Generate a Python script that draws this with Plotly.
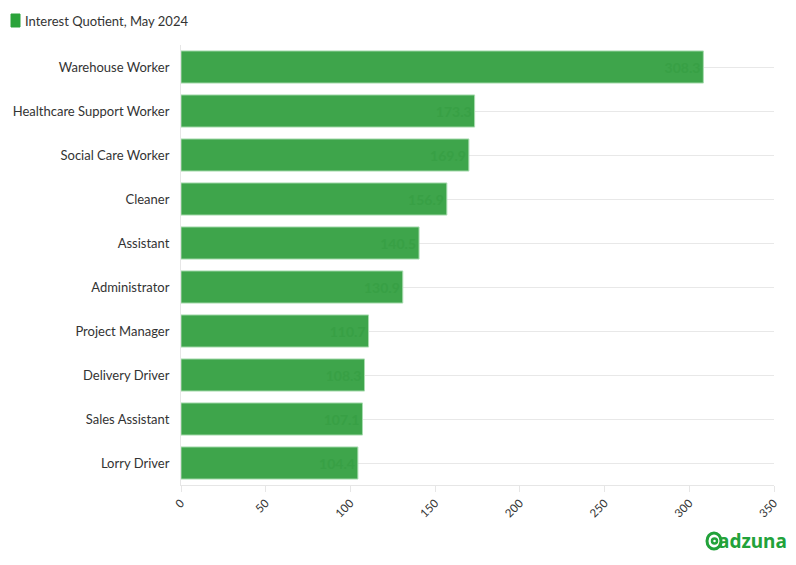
import plotly.graph_objects as go

categories = ["Warehouse Worker", "Healthcare Support Worker", "Social Care Worker", "Cleaner",
              "Assistant", "Administrator", "Project Manager", "Delivery Driver",
              "Sales Assistant", "Lorry Driver"]
values = [308.3, 173.3, 169.9, 156.9, 140.5, 130.9, 110.7, 108.3, 107.1, 104.4]
series_name = "Interest Quotient, May 2024"
x_ticks = [0, 50, 100, 150, 200, 250, 300, 350]

FONT = "Lato, 'Source Sans Pro', sans-serif"
GREEN = "#3ea54b"
LOGO = "#22a23a"

# page body offset of 8px; plot area on screen x 181..774, y 45..485
OFF = 8
W, H = 796, 565
L, R, T, B = 181 - OFF, 774 - OFF, 45 - OFF, 485 - OFF
def px(x): return (x - OFF - L) / (R - L)
def py(y): return (B - (y - OFF)) / (B - T)

fig = go.Figure()
fig.add_trace(go.Bar(
    y=categories, x=values, orientation="h", name=series_name,
    marker=dict(color=GREEN, line=dict(color="#a9dcb0", width=1)),
    text=[f"{v:.1f}" for v in values], textposition="inside", insidetextanchor="end",
    textangle=0, constraintext="none",
    insidetextfont=dict(color="#38a045", size=14, family=FONT, weight="bold"),
    cliponaxis=False, showlegend=False,
))

fig.update_layout(
    width=W, height=H,
    margin=dict(l=L, r=W - R, t=T, b=H - B, autoexpand=False),
    paper_bgcolor="white", plot_bgcolor="white",
    font=dict(family=FONT, color="#333333", size=13),
    bargap=0.27,
    showlegend=False,
    xaxis=dict(range=[0, 350], tickvals=x_ticks, tickangle=-45, showgrid=False,
               zeroline=False, showline=True, linecolor="#e6e6e6", linewidth=1,
               ticks="outside", ticklen=6, tickcolor="#e6e6e6", automargin=False,
               tickfont=dict(size=11.5, color="#333333")),
    yaxis=dict(autorange="reversed", showgrid=True, gridcolor="#e8e8e8",
               showline=True, linecolor="#e6e6e6", ticks="outside", ticklen=8,
               tickcolor="rgba(0,0,0,0)", automargin=False,
               tickfont=dict(size=13, color="#333333")),
)

# legend (drawn manually to match position)
fig.add_shape(type="rect", xref="paper", yref="paper",
              x0=px(11), x1=px(20), y0=py(27), y1=py(14),
              fillcolor="#2aa33a", line=dict(color="#2aa33a", width=1))
fig.add_annotation(xref="paper", yref="paper", x=px(23), y=py(20.5), xanchor="left",
                   yanchor="middle", text=series_name, showarrow=False,
                   font=dict(size=13, color="#333333", family=FONT))

# adzuna logo
fig.add_annotation(xref="paper", yref="paper", x=px(789), y=py(541), xanchor="right",
                   yanchor="middle", text="<b>adzuna</b>", showarrow=False,
                   font=dict(size=19, color=LOGO, family="'Noto Sans', " + FONT))
fig.add_shape(type="circle", xref="paper", yref="paper",
              x0=px(707), x1=px(721), y0=py(549), y1=py(533),
              line=dict(color=LOGO, width=3))
fig.add_shape(type="circle", xref="paper", yref="paper",
              x0=px(712), x1=px(717), y0=py(543.5), y1=py(538.5),
              line=dict(color=LOGO, width=2.5))

fig.write_html("out.html")
